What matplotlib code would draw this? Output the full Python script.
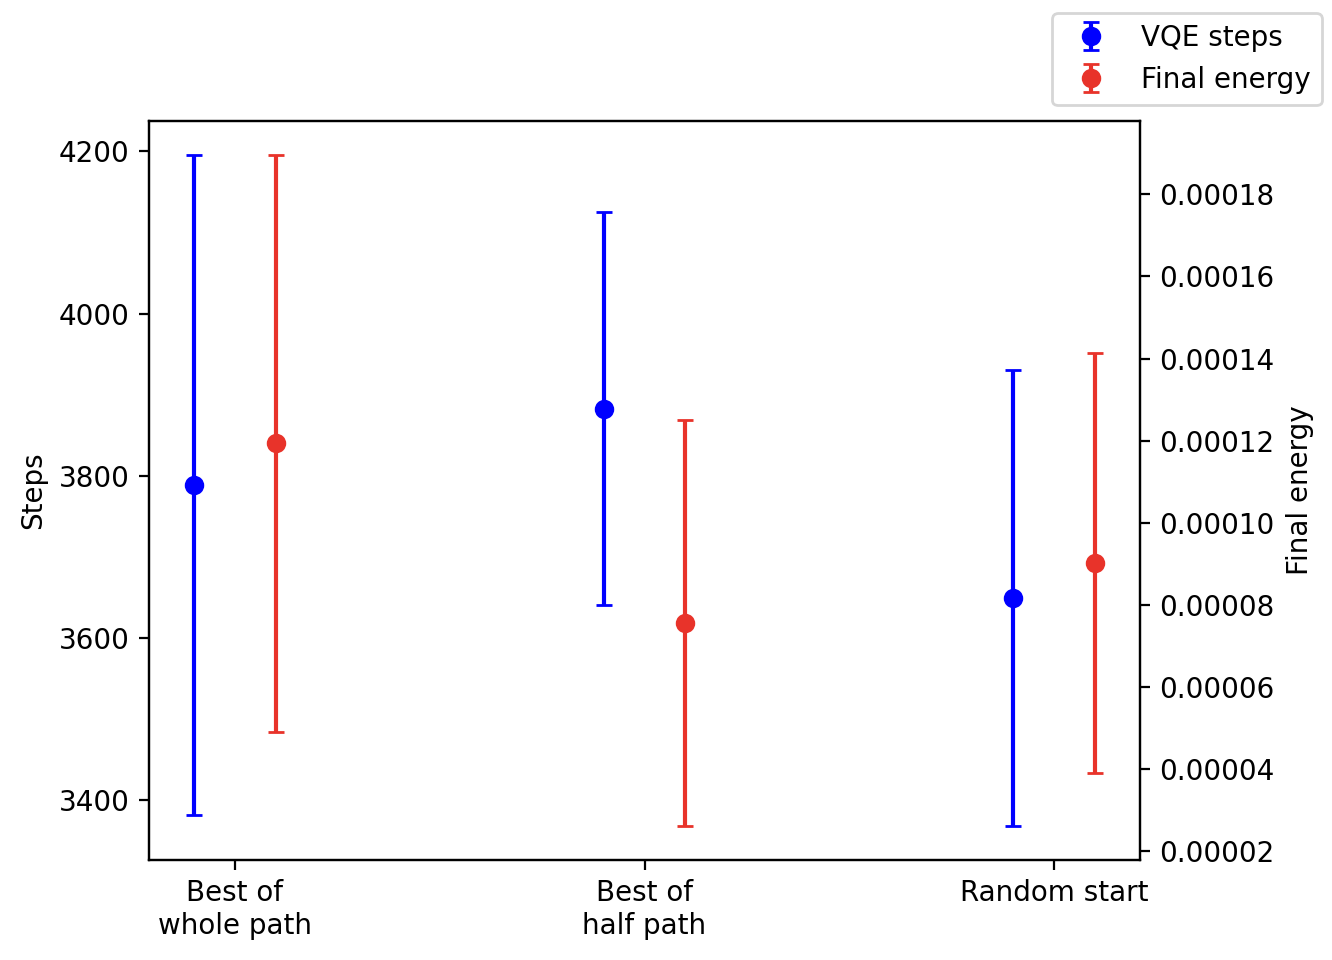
import matplotlib
matplotlib.use("Agg")
import matplotlib.pyplot as plt
import numpy as np

categories = ["Best of\nwhole path", "Best of\nhalf path", "Random start"]

steps_mean = [3789, 3883, 3649]
steps_err = [407, 242, 281]

energy_mean = [0.0001194, 0.0000755, 0.0000901]
energy_err = [0.0000703, 0.0000495, 0.0000512]

x = np.arange(len(categories))

fig = plt.figure(figsize=(6.66, 4.8), dpi=200)
ax = fig.add_axes([149 / 1332, 100 / 960, (1140 - 149) / 1332, (860 - 121) / 960])
ax2 = ax.twinx()

h1 = ax.errorbar(x - 0.1, steps_mean, yerr=steps_err, fmt="o", color="blue",
                 capsize=3, label="VQE steps")
h2 = ax2.errorbar(x + 0.1, energy_mean, yerr=energy_err, fmt="o", color="#e8332a",
                  capsize=3, label="Final energy")

ax.set_xticks(x)
ax.set_xticklabels(categories)
ax.set_ylabel("Steps")
ax.set_yticks([3400, 3600, 3800, 4000, 4200])
ax2.set_ylabel("Final energy")
ax2.set_yticks([0.00002, 0.00004, 0.00006, 0.00008, 0.0001,
                0.00012, 0.00014, 0.00016, 0.00018])
ax2.set_yticklabels(["0.00002", "0.00004", "0.00006", "0.00008", "0.00010",
                     "0.00012", "0.00014", "0.00016", "0.00018"])

fig.legend(handles=[h1, h2], loc="upper right",
           bbox_to_anchor=(1322 / 1332, 1 - 13 / 960), borderaxespad=0)

fig.savefig("out.png", dpi=200)
